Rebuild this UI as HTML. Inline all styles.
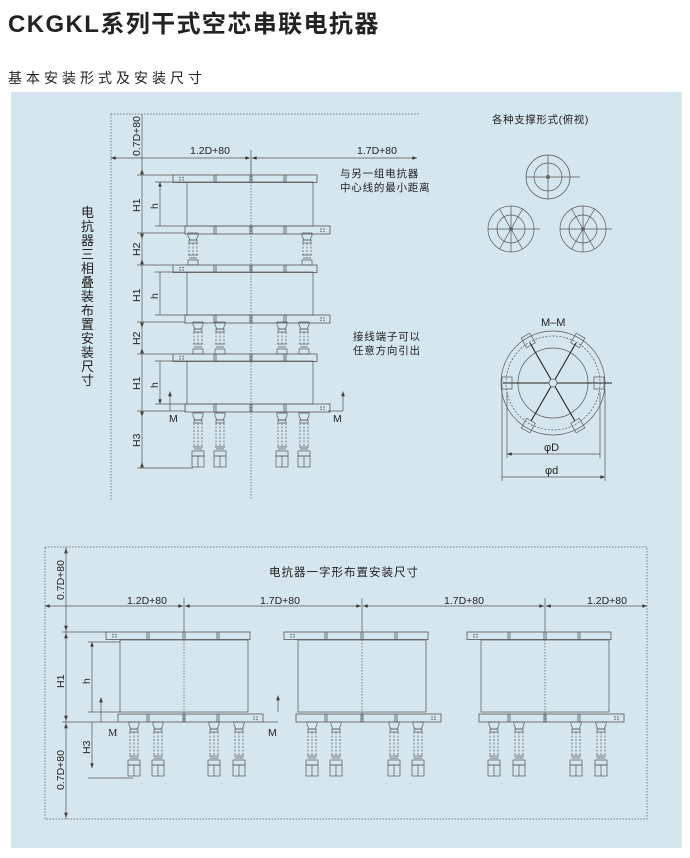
<!DOCTYPE html>
<html><head><meta charset="utf-8"><style>
html,body{margin:0;padding:0;background:#fff;width:690px;height:858px;overflow:hidden}
svg{display:block}
text{font-family:"Liberation Sans","Noto Sans CJK SC",sans-serif;fill:#222}
</style></head><body>
<svg width="690" height="858" viewBox="0 0 690 858" xmlns="http://www.w3.org/2000/svg">
<defs>
<marker id="a" viewBox="0 0 8 6" refX="8" refY="3" markerWidth="7" markerHeight="5" orient="auto-start-reverse"><path d="M0,0L8,3L0,6z" fill="#333"/></marker>
<g id="ins" fill="none" stroke="#555" stroke-width="0.7">
 <path d="M-5,0h10v3l-2,4h-6l-2,-4z"/><rect x="-4" y="7" width="8" height="3"/>
 <path d="M-4,10v24M0,10v24M4,10v24" stroke-dasharray="2,1.5"/>
 <path d="M-5,34h10M-4,36h8"/><rect x="-6" y="38" width="12" height="5"/><rect x="-6" y="43" width="12" height="11"/><path d="M0,43v11"/>
</g>
<g id="insS" fill="none" stroke="#555" stroke-width="0.7">
 <path d="M-5,0h10v3l-2,4h-6l-2,-4z"/><rect x="-4" y="7" width="8" height="3"/>
 <path d="M-4,10v12M0,10v12M4,10v12" stroke-dasharray="2,1.5"/>
 <path d="M-5,22h10M-4,25h8"/><rect x="-5" y="27" width="10" height="5"/>
</g>
<g id="tp" fill="none" stroke="#555" stroke-width="0.8">
 <rect x="-78" y="0" width="144" height="7.5"/>
 <path d="M-37,0v7.5M-35,0v7.5M-1,0v7.5M1,0v7.5M33,0v7.5M35,0v7.5"/>
 <g fill="#555" stroke="none"><circle cx="-71" cy="2.5" r=".7"/><circle cx="-68" cy="2.5" r=".7"/><circle cx="-71" cy="5" r=".7"/><circle cx="-68" cy="5" r=".7"/></g>
</g>
<g id="bp" fill="none" stroke="#555" stroke-width="0.8">
 <rect x="-66" y="0" width="145" height="8"/>
 <path d="M-37,0v8M-35,0v8M-1,0v8M1,0v8M33,0v8M35,0v8"/>
 <g fill="#555" stroke="none"><circle cx="70" cy="3" r=".7"/><circle cx="73" cy="3" r=".7"/><circle cx="70" cy="5.5" r=".7"/><circle cx="73" cy="5.5" r=".7"/></g>
</g>
</defs>

<text x="8" y="32" font-size="24" font-weight="bold" letter-spacing="1.4" fill="#111">CKGKL系列干式空芯串联电抗器</text>
<text x="8" y="83" font-size="14" letter-spacing="4">基本安装形式及安装尺寸</text>
<rect x="11" y="92" width="671" height="756" fill="#d6e6ee"/>

<g stroke="#555" stroke-width="0.7" fill="none">
<path d="M111,114H420M111,114V500M251,158V500" stroke-dasharray="1.5,1.5"/>
<path d="M142,114V468"/>
<path d="M111,158H250" marker-start="url(#a)" marker-end="url(#a)"/>
<path d="M252,158H417" marker-start="url(#a)" marker-end="url(#a)"/>
<path d="M251,150V175"/>
<path d="M137,175H173M137,233H185M137,265H173M137,322H185M137,354H173M137,411H186M137,468H193"/>
<path d="M142,170l-1.5,4h3zM142,238l-1.5,-4h3zM142,260l-1.5,4h3zM142,327l-1.5,-4h3zM142,349l-1.5,4h3zM142,416l-1.5,-4h3zM142,463l-1.5,4h3z" fill="#333"/>
<path d="M155,182H187M155,226H187M155,272H187M155,315H187M155,361H187M155,404H187"/>
<path d="M160,182V226M160,272V315M160,361V404" marker-start="url(#a)" marker-end="url(#a)"/>
<path d="M328,411H343M343,411V394M170,411V394" />
<path d="M343,392l-1.5,4h3zM170,392l-1.5,4h3z" fill="#333"/>
<rect x="187" y="182" width="126" height="44"/><rect x="187" y="272" width="126" height="43"/><rect x="187" y="361" width="126" height="43"/>
</g>
<use href="#tp" x="251" y="175"/><use href="#bp" x="251" y="226"/>
<use href="#tp" x="251" y="265"/><use href="#bp" x="251" y="315"/>
<use href="#tp" x="251" y="354"/><use href="#bp" x="251" y="404"/>
<use href="#insS" x="193" y="233"/><use href="#insS" x="307" y="233"/>
<use href="#insS" x="198" y="322"/><use href="#insS" x="220" y="322"/><use href="#insS" x="282" y="322"/><use href="#insS" x="304" y="322"/>
<use href="#ins" x="198" y="413"/><use href="#ins" x="220" y="413"/><use href="#ins" x="282" y="413"/><use href="#ins" x="304" y="413"/>

<g font-size="10.5">
<text transform="translate(140,156) rotate(-90)">0.7D+80</text>
<text transform="translate(140,212) rotate(-90)">H1</text>
<text transform="translate(140,256) rotate(-90)">H2</text>
<text transform="translate(140,302) rotate(-90)">H1</text>
<text transform="translate(140,345) rotate(-90)">H2</text>
<text transform="translate(140,390) rotate(-90)">H1</text>
<text transform="translate(140,447) rotate(-90)">H3</text>
<text transform="translate(158,209) rotate(-90)">h</text>
<text transform="translate(158,299) rotate(-90)">h</text>
<text transform="translate(158,388) rotate(-90)">h</text>
<text x="190" y="154">1.2D+80</text>
<text x="357" y="154">1.7D+80</text>
<text x="169" y="422">M</text>
<text x="333" y="422">M</text>
<text x="340" y="177" letter-spacing="0.8">与另一组电抗器</text>
<text x="340" y="191" letter-spacing="0.8">中心线的最小距离</text>
<text x="353" y="340" letter-spacing="0.8">接线端子可以</text>
<text x="353" y="354" letter-spacing="0.8">任意方向引出</text>
</g>
<g font-size="13">
<text x="81" y="217">电</text><text x="81" y="231">抗</text><text x="81" y="245">器</text><text x="81" y="259">三</text><text x="81" y="273">相</text><text x="81" y="287">叠</text><text x="81" y="301">装</text><text x="81" y="315">布</text><text x="81" y="329">置</text><text x="81" y="343">安</text><text x="81" y="357">装</text><text x="81" y="371">尺</text><text x="81" y="385">寸</text>
</g>

<text x="492" y="123" font-size="10.5" letter-spacing="0.6">各种支撑形式(俯视)</text>
<g stroke="#555" stroke-width="0.7" fill="none">
<circle cx="548" cy="177" r="22"/><circle cx="548" cy="177" r="14"/><path d="M526,177H580M548,155V199"/>
<circle cx="511" cy="229" r="23"/><circle cx="511" cy="229" r="14"/><path d="M488,229H540M511,206V252M499.5,209L522.5,249M522.5,209L499.5,249"/>
<circle cx="583" cy="229" r="23"/><circle cx="583" cy="229" r="14"/><path d="M560,229H612M583,206V252M571.5,209L594.5,249M594.5,209L571.5,249"/>
</g>
<g fill="#666"><circle cx="548" cy="177" r="2"/><circle cx="511" cy="229" r="2"/><circle cx="583" cy="229" r="2"/></g>

<text x="541" y="326" font-size="11">M–M</text>
<g stroke="#555" stroke-width="0.7" fill="none">
<circle cx="553" cy="383" r="52"/><circle cx="553" cy="383" r="47" stroke-dasharray="2,1.5"/><circle cx="553" cy="383" r="35"/>
<g stroke="#222" stroke-width="1.1"><path d="M557,383H612M549,383H503M555,386.5L575,421M551,386.5L531,421M555,379.5L576,343M551,379.5L530,343"/></g>
<circle cx="553" cy="383" r="4" fill="#d6e6ee"/>
<rect x="502" y="377" width="10" height="12"/><rect x="594" y="377" width="10" height="12"/>
<rect x="523" y="335" width="10" height="11" transform="rotate(-30 528 340)"/><rect x="573" y="335" width="10" height="11" transform="rotate(30 578 340)"/>
<rect x="523" y="420" width="10" height="11" transform="rotate(30 528 426)"/><rect x="573" y="420" width="10" height="11" transform="rotate(-30 578 426)"/>
<path d="M507,392V458M600,392V458M502,389V481M605,389V481"/>
<path d="M507,454H600M502,477H605" marker-start="url(#a)" marker-end="url(#a)"/>
</g>
<text x="544" y="451" font-size="11">φD</text>
<text x="545" y="474" font-size="11">φd</text>

<g stroke="#555" stroke-width="0.7" fill="none">
<path d="M45,547H647V819H45Z" stroke-dasharray="1.5,1.5"/>
<path d="M66,547V819"/>
<path d="M66,549l-1.5,4h3zM66,630l-1.5,-4h3zM66,634l-1.5,4h3zM66,720l-1.5,-4h3zM66,724l-1.5,4h3zM66,817l-1.5,-4h3z" fill="#333"/>
<path d="M45,606H183" marker-start="url(#a)" marker-end="url(#a)"/>
<path d="M185,606H361" marker-start="url(#a)" marker-end="url(#a)"/>
<path d="M363,606H544" marker-start="url(#a)" marker-end="url(#a)"/>
<path d="M546,606H647" marker-start="url(#a)" marker-end="url(#a)"/>
<path d="M184,598V632M362,598V632M545,598V632"/>
<path d="M184,640V722M362,640V722M545,640V722" stroke-dasharray="1.5,1.5"/>
<path d="M62,632H107M62,722H118M88,778H133M88,642H120M88,712H120"/>
<path d="M92,642V712M92,722V768" marker-start="url(#a)" marker-end="url(#a)"/>
<path d="M101,722V700M278,712V698M263,722H278"/>
<path d="M101,698l-1.5,4h3zM278,696l-1.5,4h3z" fill="#333"/>
<rect x="120" y="640" width="128" height="72"/><rect x="298" y="640" width="128" height="72"/><rect x="481" y="640" width="128" height="72"/>
</g>
<use href="#tp" x="184" y="632"/><use href="#bp" x="184" y="714"/>
<use href="#tp" x="362" y="632"/><use href="#bp" x="362" y="714"/>
<use href="#tp" x="545" y="632"/><use href="#bp" x="545" y="714"/>
<use href="#ins" x="134" y="722"/><use href="#ins" x="158" y="722"/><use href="#ins" x="214" y="722"/><use href="#ins" x="239" y="722"/>
<use href="#ins" x="312" y="722"/><use href="#ins" x="336" y="722"/><use href="#ins" x="394" y="722"/><use href="#ins" x="418" y="722"/>
<use href="#ins" x="494" y="722"/><use href="#ins" x="519" y="722"/><use href="#ins" x="576" y="722"/><use href="#ins" x="601" y="722"/>
<g font-size="10.5">
<text x="269" y="576" font-size="11.5" letter-spacing="1">电抗器一字形布置安装尺寸</text>
<text transform="translate(64,600) rotate(-90)">0.7D+80</text>
<text transform="translate(64,688) rotate(-90)">H1</text>
<text transform="translate(64,790) rotate(-90)">0.7D+80</text>
<text transform="translate(90,684) rotate(-90)">h</text>
<text transform="translate(90,754) rotate(-90)">H3</text>
<text x="127" y="604">1.2D+80</text>
<text x="260" y="604">1.7D+80</text>
<text x="444" y="604">1.7D+80</text>
<text x="587" y="604">1.2D+80</text>
<text x="108" y="736" style="font-family:'Liberation Serif',serif">M</text>
<text x="268" y="736">M</text>
</g>
</svg>
</body></html>
